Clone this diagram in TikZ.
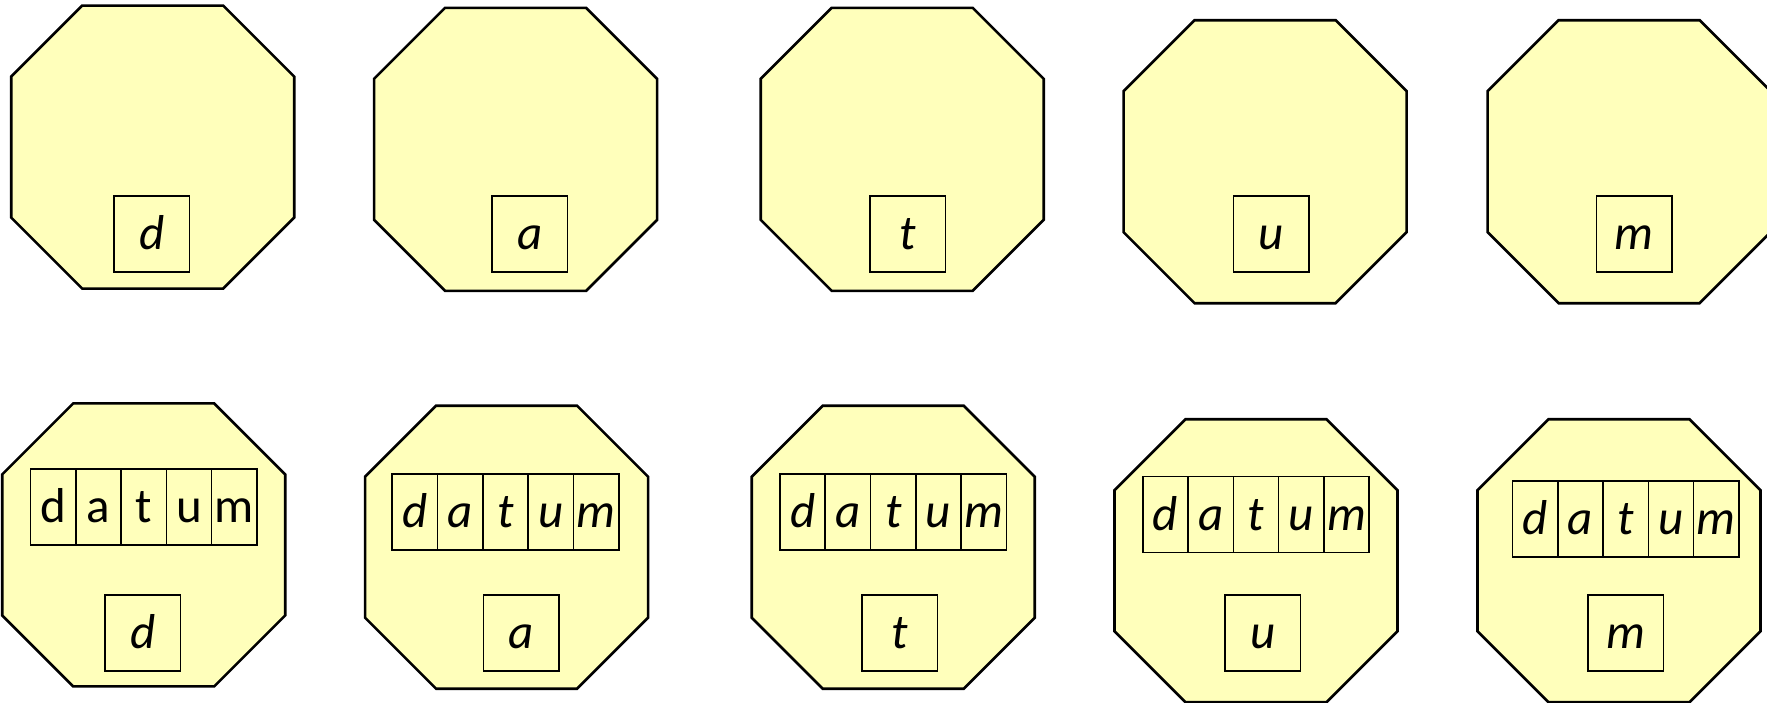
\documentclass[tikz,border=0pt]{standalone}
\usepackage{fontspec}
\setmainfont{Carlito}
\usepackage{tikz}
\usetikzlibrary{positioning}
\definecolor{paleyellow}{HTML}{FFFFBB}

% octagon with corners cut by a quarter, centred at (#2,#3)
\newcommand{\octagon}[3]{%
  \coordinate (#1) at (#2,#3);
  \draw[octa,shift={(#1)}] (-141.5,-70.5) -- (-141.5,70.5) -- (-70.5,141.5) -- (70.5,141.5)
    -- (141.5,70.5) -- (141.5,-70.5) -- (70.5,-141.5) -- (-70.5,-141.5) -- cycle;
}
% one row of five letter cells, middle cell at (#2,#3)
\newcommand{\datumrow}[4]{%
  \node[cell,#4] (#1t) at (#2,#3) {t};
  \node[cell,#4,left=0pt of #1t] (#1a) {a};
  \node[cell,#4,left=0pt of #1a] (#1d) {d};
  \node[cell,#4,right=0pt of #1t] (#1u) {u};
  \node[cell,#4,right=0pt of #1u] (#1m) {m};
}

\begin{document}
\begin{tikzpicture}[x=0.5pt,y=-0.5pt,
  font=\fontsize{24.5}{29}\selectfont,
  octa/.style={draw,line width=1.3pt,line join=miter,fill=paleyellow},
  lbox/.style={draw,line width=0.8pt,minimum width=37.75pt,minimum height=38pt,inner sep=0pt,
    text height=16pt,text depth=0pt,font=\fontsize{24.5}{29}\selectfont\itshape},
  cell/.style={draw,line width=0.8pt,minimum width=22.65pt,minimum height=38pt,inner sep=0pt,outer sep=0pt,
    text height=15.5pt,text depth=0pt}
]
\useasboundingbox (0,0) rectangle (1767,702);
\clip (0,0) rectangle (1767,702);

% top row: one letter each
\octagon{o1}{152.7}{147.1}
\octagon{o2}{515.6}{149.3}
\octagon{o3}{902.2}{149.3}
\octagon{o4}{1265.1}{161.7}
\octagon{o5}{1629.1}{161.7}
\node[lbox] (l1) at (151.6,233.9) {d};
\node[lbox] (l2) at (529.7,233.9) {a};
\node[lbox] (l3) at (907.8,233.9) {t};
\node[lbox] (l4) at (1271.3,233.9) {u};
\node[lbox] (l5) at (1634.2,233.9) {m};

% bottom row: whole word plus own letter
\octagon{p1}{143.7}{544.9}
\octagon{p2}{506.6}{547.2}
\octagon{p3}{893.2}{547.2}
\octagon{p4}{1256.0}{560.7}
\octagon{p5}{1619.0}{560.7}
\datumrow{w1}{143.7}{507.2}{}
\datumrow{w2}{505.5}{512.2}{font=\fontsize{24.5}{29}\selectfont\itshape}
\datumrow{w3}{893.2}{512.2}{font=\fontsize{24.5}{29}\selectfont\itshape}
\datumrow{w4}{1256.0}{514.5}{font=\fontsize{24.5}{29}\selectfont\itshape}
\datumrow{w5}{1625.7}{519.0}{font=\fontsize{24.5}{29}\selectfont\itshape}
\node[lbox] (k1) at (142.6,632.8) {d};
\node[lbox] (k2) at (521.2,632.8) {a};
\node[lbox] (k3) at (899.9,632.8) {t};
\node[lbox] (k4) at (1262.8,632.8) {u};
\node[lbox] (k5) at (1625.7,632.8) {m};
\end{tikzpicture}
\end{document}
